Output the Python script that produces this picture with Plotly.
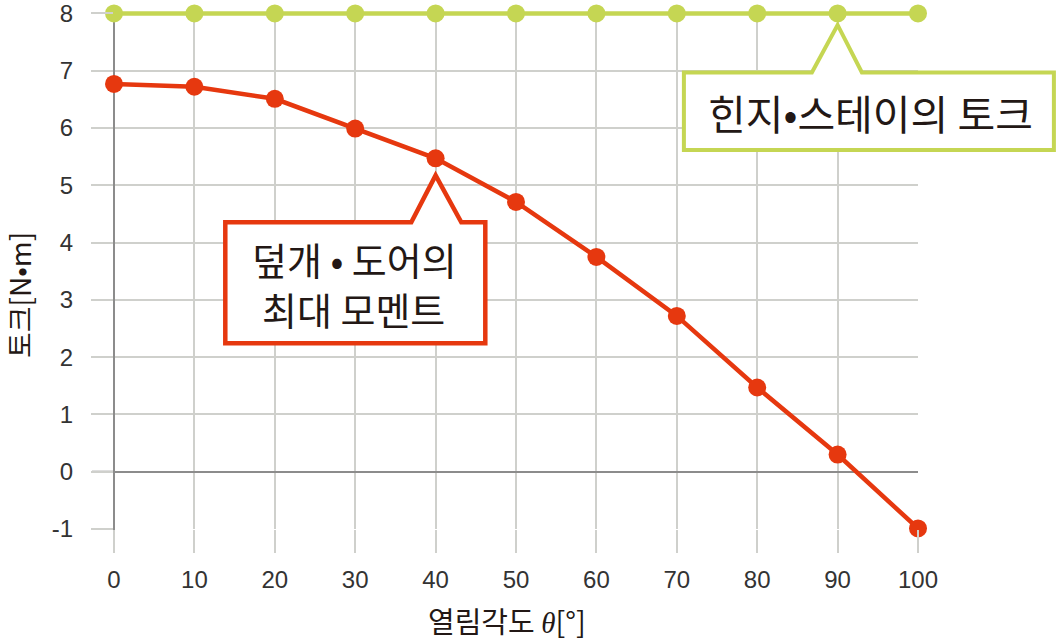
import plotly.graph_objects as go

# ---- data ----
angles = [0, 10, 20, 30, 40, 50, 60, 70, 80, 90, 100]
hinge_torque = [8, 8, 8, 8, 8, 8, 8, 8, 8, 8, 8]
door_moment = [6.77, 6.72, 6.51, 5.99, 5.47, 4.71, 3.75, 2.72, 1.47, 0.30, -0.99]
x_ticks = [0, 10, 20, 30, 40, 50, 60, 70, 80, 90, 100]
y_ticks = [-1, 0, 1, 2, 3, 4, 5, 6, 7, 8]
x_title = "열림각도 <span style=\"font-family:'Liberation Serif'\"><i>θ</i></span>[°]"
y_title = "토크[N•m]"
green_label = "힌지•스테이의 토크"
red_label_1 = "덮개 • 도어의"
red_label_2 = "최대 모멘트"

# ---- style ----
RED = "#E6380F"
GREEN = "#C5D653"
GRID = "#CFD0CC"
ZERO = "#8C8C8C"
TEXT = "#231815"
FONT = "Liberation Sans, Noto Sans CJK KR"
KFONT = "Noto Sans CJK KR"

W, H = 1060, 640
ML, MR, MT, MB = 114, 142, 10, 111
PW, PH = W - ML - MR, H - MT - MB
XR = [0, 100]
YR = [-1, 8.06]   # tiny headroom so the top line is not clipped


def to_paper(xv, yv):
    return ((xv - XR[0]) / (XR[1] - XR[0]), (yv - YR[0]) / (YR[1] - YR[0]))


def callout_path(ax, ay, apex_dy, top, bottom, left, right, bl, br):
    # offsets in pixels relative to the anchor (down = positive)
    def p(dx, dy):
        return f"{ax + dx / PW:.5f},{ay - dy / PH:.5f}"
    return ("M " + p(left, top) + " L " + p(bl, top) + " L " + p(0, apex_dy) +
            " L " + p(br, top) + " L " + p(right, top) + " L " + p(right, bottom) +
            " L " + p(left, bottom) + " Z")


fig = go.Figure()
fig.add_trace(go.Scatter(x=angles, y=hinge_torque, mode="lines+markers",
                         line=dict(color=GREEN, width=4.5),
                         marker=dict(color=GREEN, size=18),
                         cliponaxis=False, showlegend=False))
fig.add_trace(go.Scatter(x=angles, y=door_moment, mode="lines+markers",
                         line=dict(color=RED, width=4.5),
                         marker=dict(color=RED, size=18),
                         cliponaxis=False, showlegend=False))

shapes = []
# dark extensions of zero lines into tick area
zx, zy = to_paper(0, 0)
shapes.append(dict(type="line", xref="paper", yref="paper", x0=zx, x1=zx,
                   y0=0, y1=-23 / PH, line=dict(color=ZERO, width=2), layer="below"))
shapes.append(dict(type="line", xref="paper", yref="paper", x0=-22 / PW, x1=0,
                   y0=zy, y1=zy, line=dict(color=ZERO, width=2), layer="below"))

# green callout anchored at angle 90
gx, gy = to_paper(angles[9], hinge_torque[9])
shapes.append(dict(type="path", xref="paper", yref="paper",
                   path=callout_path(gx, gy, 11.5, 59, 136.5, -153.7, 216.3, -25.7, 24.3),
                   fillcolor="white", line=dict(color=GREEN, width=4), layer="above"))
# red callout anchored at angle 40
rx, ry = to_paper(angles[4], door_moment[4])
shapes.append(dict(type="path", xref="paper", yref="paper",
                   path=callout_path(rx, ry, 17, 64, 185, -210.3, 49.7, -24.3, 25.7),
                   fillcolor="white", line=dict(color=RED, width=4.5), layer="above"))

annotations = [
    dict(xref="paper", yref="paper", x=gx + 33.3 / PW, y=gy - 98.5 / PH,
         text=green_label, showarrow=False, xanchor="center", yanchor="middle",
         font=dict(family=KFONT, size=41, color=TEXT)),
    dict(xref="paper", yref="paper", x=rx - 81 / PW, y=ry - 100 / PH,
         text=red_label_1, showarrow=False, xanchor="center", yanchor="middle",
         font=dict(family=KFONT, size=38, color=TEXT)),
    dict(xref="paper", yref="paper", x=rx - 82 / PW, y=ry - 150 / PH,
         text=red_label_2, showarrow=False, xanchor="center", yanchor="middle",
         font=dict(family=KFONT, size=38, color=TEXT)),
    dict(xref="paper", yref="paper", x=(507 - ML) / PW, y=(H - MB - 620) / PH,
         text=x_title, showarrow=False, xanchor="center", yanchor="middle",
         font=dict(family=KFONT, size=29, color=TEXT)),
    dict(xref="paper", yref="paper", x=(19 - ML) / PW, y=(H - MB - 295) / PH,
         text=y_title, showarrow=False, xanchor="center", yanchor="middle",
         textangle=-90, font=dict(family=KFONT, size=28, color=TEXT)),
]

fig.update_layout(
    width=W, height=H,
    template="none",
    margin=dict(l=ML, r=MR, t=MT, b=MB, pad=0, autoexpand=False),
    paper_bgcolor="white", plot_bgcolor="white",
    shapes=shapes, annotations=annotations,
    xaxis=dict(range=XR, tickvals=x_ticks, ticktext=[str(v) for v in x_ticks],
               automargin=False, ticklabeloverflow="allow",
               showgrid=True, gridcolor=GRID, gridwidth=2,
               ticks="outside", ticklen=23, tickwidth=2, tickcolor=GRID,
               zeroline=True, zerolinecolor=ZERO, zerolinewidth=2,
               showline=False, ticklabelstandoff=6,
               tickfont=dict(family=FONT, size=24, color="#333333")),
    yaxis=dict(range=YR, tickvals=y_ticks, ticktext=[str(v) for v in y_ticks],
               automargin=False, ticklabeloverflow="allow",
               showgrid=True, gridcolor=GRID, gridwidth=2,
               ticks="outside", ticklen=22, tickwidth=2, tickcolor=GRID,
               zeroline=True, zerolinecolor=ZERO, zerolinewidth=2,
               showline=False, ticklabelstandoff=13,
               tickfont=dict(family=FONT, size=24, color="#333333")),
)

fig.write_html("out.html", config={"displayModeBar": False},
               post_script="document.body.style.margin='0';document.body.style.overflow='hidden';")
